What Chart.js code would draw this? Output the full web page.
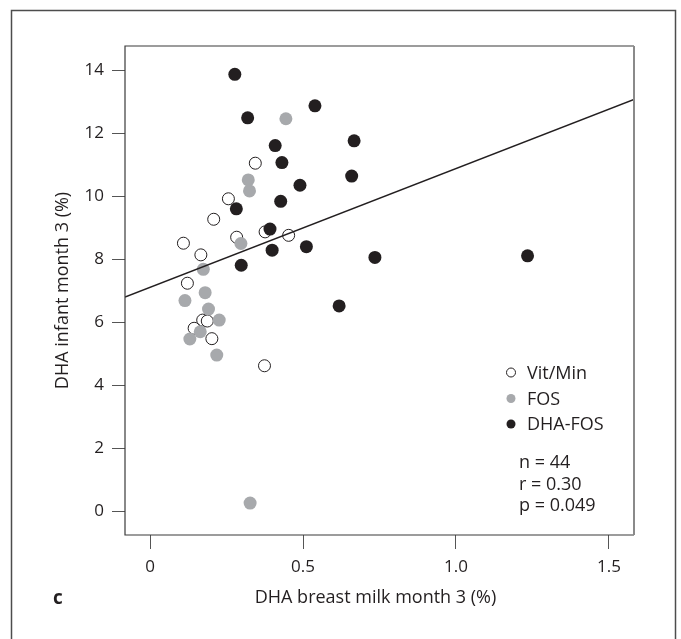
<!DOCTYPE html>
<html>
<head>
<meta charset="utf-8">
<title>DHA infant vs breast milk</title>
<script src="https://cdn.jsdelivr.net/npm/chart.js@4"></script>
<style>
  html, body { margin: 0; padding: 0; background: #fff; }
  canvas { display: block; }
</style>
</head>
<body>
<canvas id="chart" width="681" height="639"></canvas>
<script>
// values
const vitMinX = [0.344, 0.256, 0.208, 0.109, 0.283, 0.376, 0.453, 0.166, 0.122, 0.172, 0.187, 0.144, 0.202, 0.374];
const vitMinY = [11.05, 9.92, 9.27, 8.51, 8.70, 8.87, 8.76, 8.14, 7.24, 6.07, 6.04, 5.81, 5.48, 4.62];

const fosX = [0.444, 0.321, 0.325, 0.297, 0.174, 0.180, 0.114, 0.191, 0.226, 0.164, 0.130, 0.218, 0.327];
const fosY = [12.46, 10.52, 10.17, 8.50, 7.68, 6.94, 6.69, 6.42, 6.07, 5.70, 5.47, 4.96, 0.26];

const dhaFosX = [0.277, 0.319, 0.539, 0.409, 0.431, 0.667, 0.659, 0.490, 0.427, 0.282, 0.392, 0.399, 0.511, 0.298, 0.735, 1.234, 0.618];
const dhaFosY = [13.87, 12.49, 12.87, 11.61, 11.07, 11.76, 10.64, 10.35, 9.84, 9.60, 8.96, 8.29, 8.40, 7.81, 8.06, 8.11, 6.52];

// regression line end points
const fitX = [-0.082, 1.582];
const fitY = [6.80, 13.07];

const xTicks = [0, 0.5, 1.0, 1.5];
const xTickLabels = ['0', '0.5', '1.0', '1.5'];
const yTicks = [0, 2, 4, 6, 8, 10, 12, 14];

const groupNames = ['Vit/Min', 'FOS', 'DHA-FOS'];
const statLines = ['n = 44', 'r = 0.30', 'p = 0.049'];

const FONT = "'Open Sans', 'DejaVu Sans', sans-serif";
const INK = '#231f20';
const GREY = '#a7a9ac';

function pts(xs, ys) {
  return xs.map((x, i) => ({ x: x, y: ys[i] }));
}

// frame, plot box, panel letter, x title and the in-plot legend
const decorations = {
  id: 'decorations',
  afterDraw(chart) {
    const c = chart.ctx;
    const a = chart.chartArea;
    c.save();

    c.strokeStyle = '#4d4d4d';
    c.lineWidth = 1.5;
    c.strokeRect(11.5, 10.5, 664, 640);

    c.strokeStyle = '#3a3a3a';
    c.lineWidth = 1.2;
    c.beginPath();
    c.moveTo(a.right, a.top);
    c.lineTo(a.left, a.top);
    c.lineTo(a.left, a.bottom);
    c.lineTo(a.right, a.bottom);
    c.stroke();
    c.strokeStyle = '#8a8a8a';
    c.lineWidth = 2;
    c.beginPath();
    c.moveTo(a.right, a.top);
    c.lineTo(a.right, a.bottom);
    c.stroke();

    c.fillStyle = INK;
    c.font = 'bold 19px ' + FONT;
    c.textBaseline = 'alphabetic';
    c.textAlign = 'left';
    c.fillText('c', 53, 604);

    c.font = '18px ' + FONT;
    c.textAlign = 'center';
    c.fillText('DHA breast milk month 3 (%)', 375.5, 603);
    c.textAlign = 'left';

    // legend
    const rows = [372.5, 398.5, 424];
    const styles = [
      { fill: '#fff', stroke: INK },
      { fill: GREY, stroke: null },
      { fill: INK, stroke: null }
    ];
    c.font = '18px ' + FONT;
    c.textBaseline = 'middle';
    groupNames.forEach((name, i) => {
      c.beginPath();
      c.arc(511, rows[i], 4.5, 0, Math.PI * 2);
      c.fillStyle = styles[i].fill;
      c.fill();
      if (styles[i].stroke) {
        c.strokeStyle = styles[i].stroke;
        c.lineWidth = 1;
        c.stroke();
      }
      c.fillStyle = INK;
      c.fillText(name, 527, rows[i] + 1);
    });

    const statRows = [463, 484.5, 505.5];
    statLines.forEach((s, i) => c.fillText(s, 519, statRows[i]));

    c.restore();
  }
};

new Chart(document.getElementById('chart'), {
  type: 'scatter',
  data: {
    datasets: [
      {
        type: 'line',
        label: 'fit',
        data: pts(fitX, fitY),
        borderColor: INK,
        borderWidth: 1.5,
        pointRadius: 0,
        fill: false,
        order: 0
      },
      {
        label: groupNames[2],
        data: pts(dhaFosX, dhaFosY),
        backgroundColor: INK,
        borderWidth: 0,
        pointRadius: 6.5,
        order: 1
      },
      {
        label: groupNames[1],
        data: pts(fosX, fosY),
        backgroundColor: GREY,
        borderWidth: 0,
        pointRadius: 6.5,
        order: 2
      },
      {
        label: groupNames[0],
        data: pts(vitMinX, vitMinY),
        backgroundColor: '#fff',
        borderColor: INK,
        borderWidth: 1,
        pointRadius: 6,
        order: 3
      }
    ]
  },
  options: {
    responsive: false,
    animation: false,
    devicePixelRatio: 1,
    layout: { padding: { top: 46, right: 47, left: 0, bottom: 0 } },
    plugins: {
      legend: { display: false },
      tooltip: { enabled: false }
    },
    scales: {
      x: {
        type: 'linear',
        min: -0.082,
        max: 1.582,
        afterFit(scale) { scale.height = 104; },
        afterBuildTicks(scale) { scale.ticks = xTicks.map(v => ({ value: v })); },
        border: { display: false },
        grid: { drawOnChartArea: false, drawTicks: true, tickLength: 14, color: '#555', lineWidth: 1 },
        ticks: {
          padding: 8,
          color: INK,
          font: { family: FONT, size: 17 },
          maxRotation: 0,
          callback: (v) => xTickLabels[xTicks.indexOf(v)]
        },
        title: { display: false }
      },
      y: {
        type: 'linear',
        min: -0.752,
        max: 14.77,
        afterFit(scale) { scale.width = 125; },
        afterBuildTicks(scale) { scale.ticks = yTicks.map(v => ({ value: v })); },
        border: { display: false },
        grid: { drawOnChartArea: false, drawTicks: true, tickLength: 13, color: '#555', lineWidth: 1 },
        ticks: {
          padding: 8,
          color: INK,
          font: { family: FONT, size: 17 },
          callback: (v) => String(v)
        },
        title: {
          display: true,
          text: 'DHA infant month 3 (%)',
          color: INK,
          font: { family: FONT, size: 18 },
          padding: { top: 52, bottom: 0 }
        }
      }
    }
  },
  plugins: [decorations]
});
</script>
</body>
</html>
